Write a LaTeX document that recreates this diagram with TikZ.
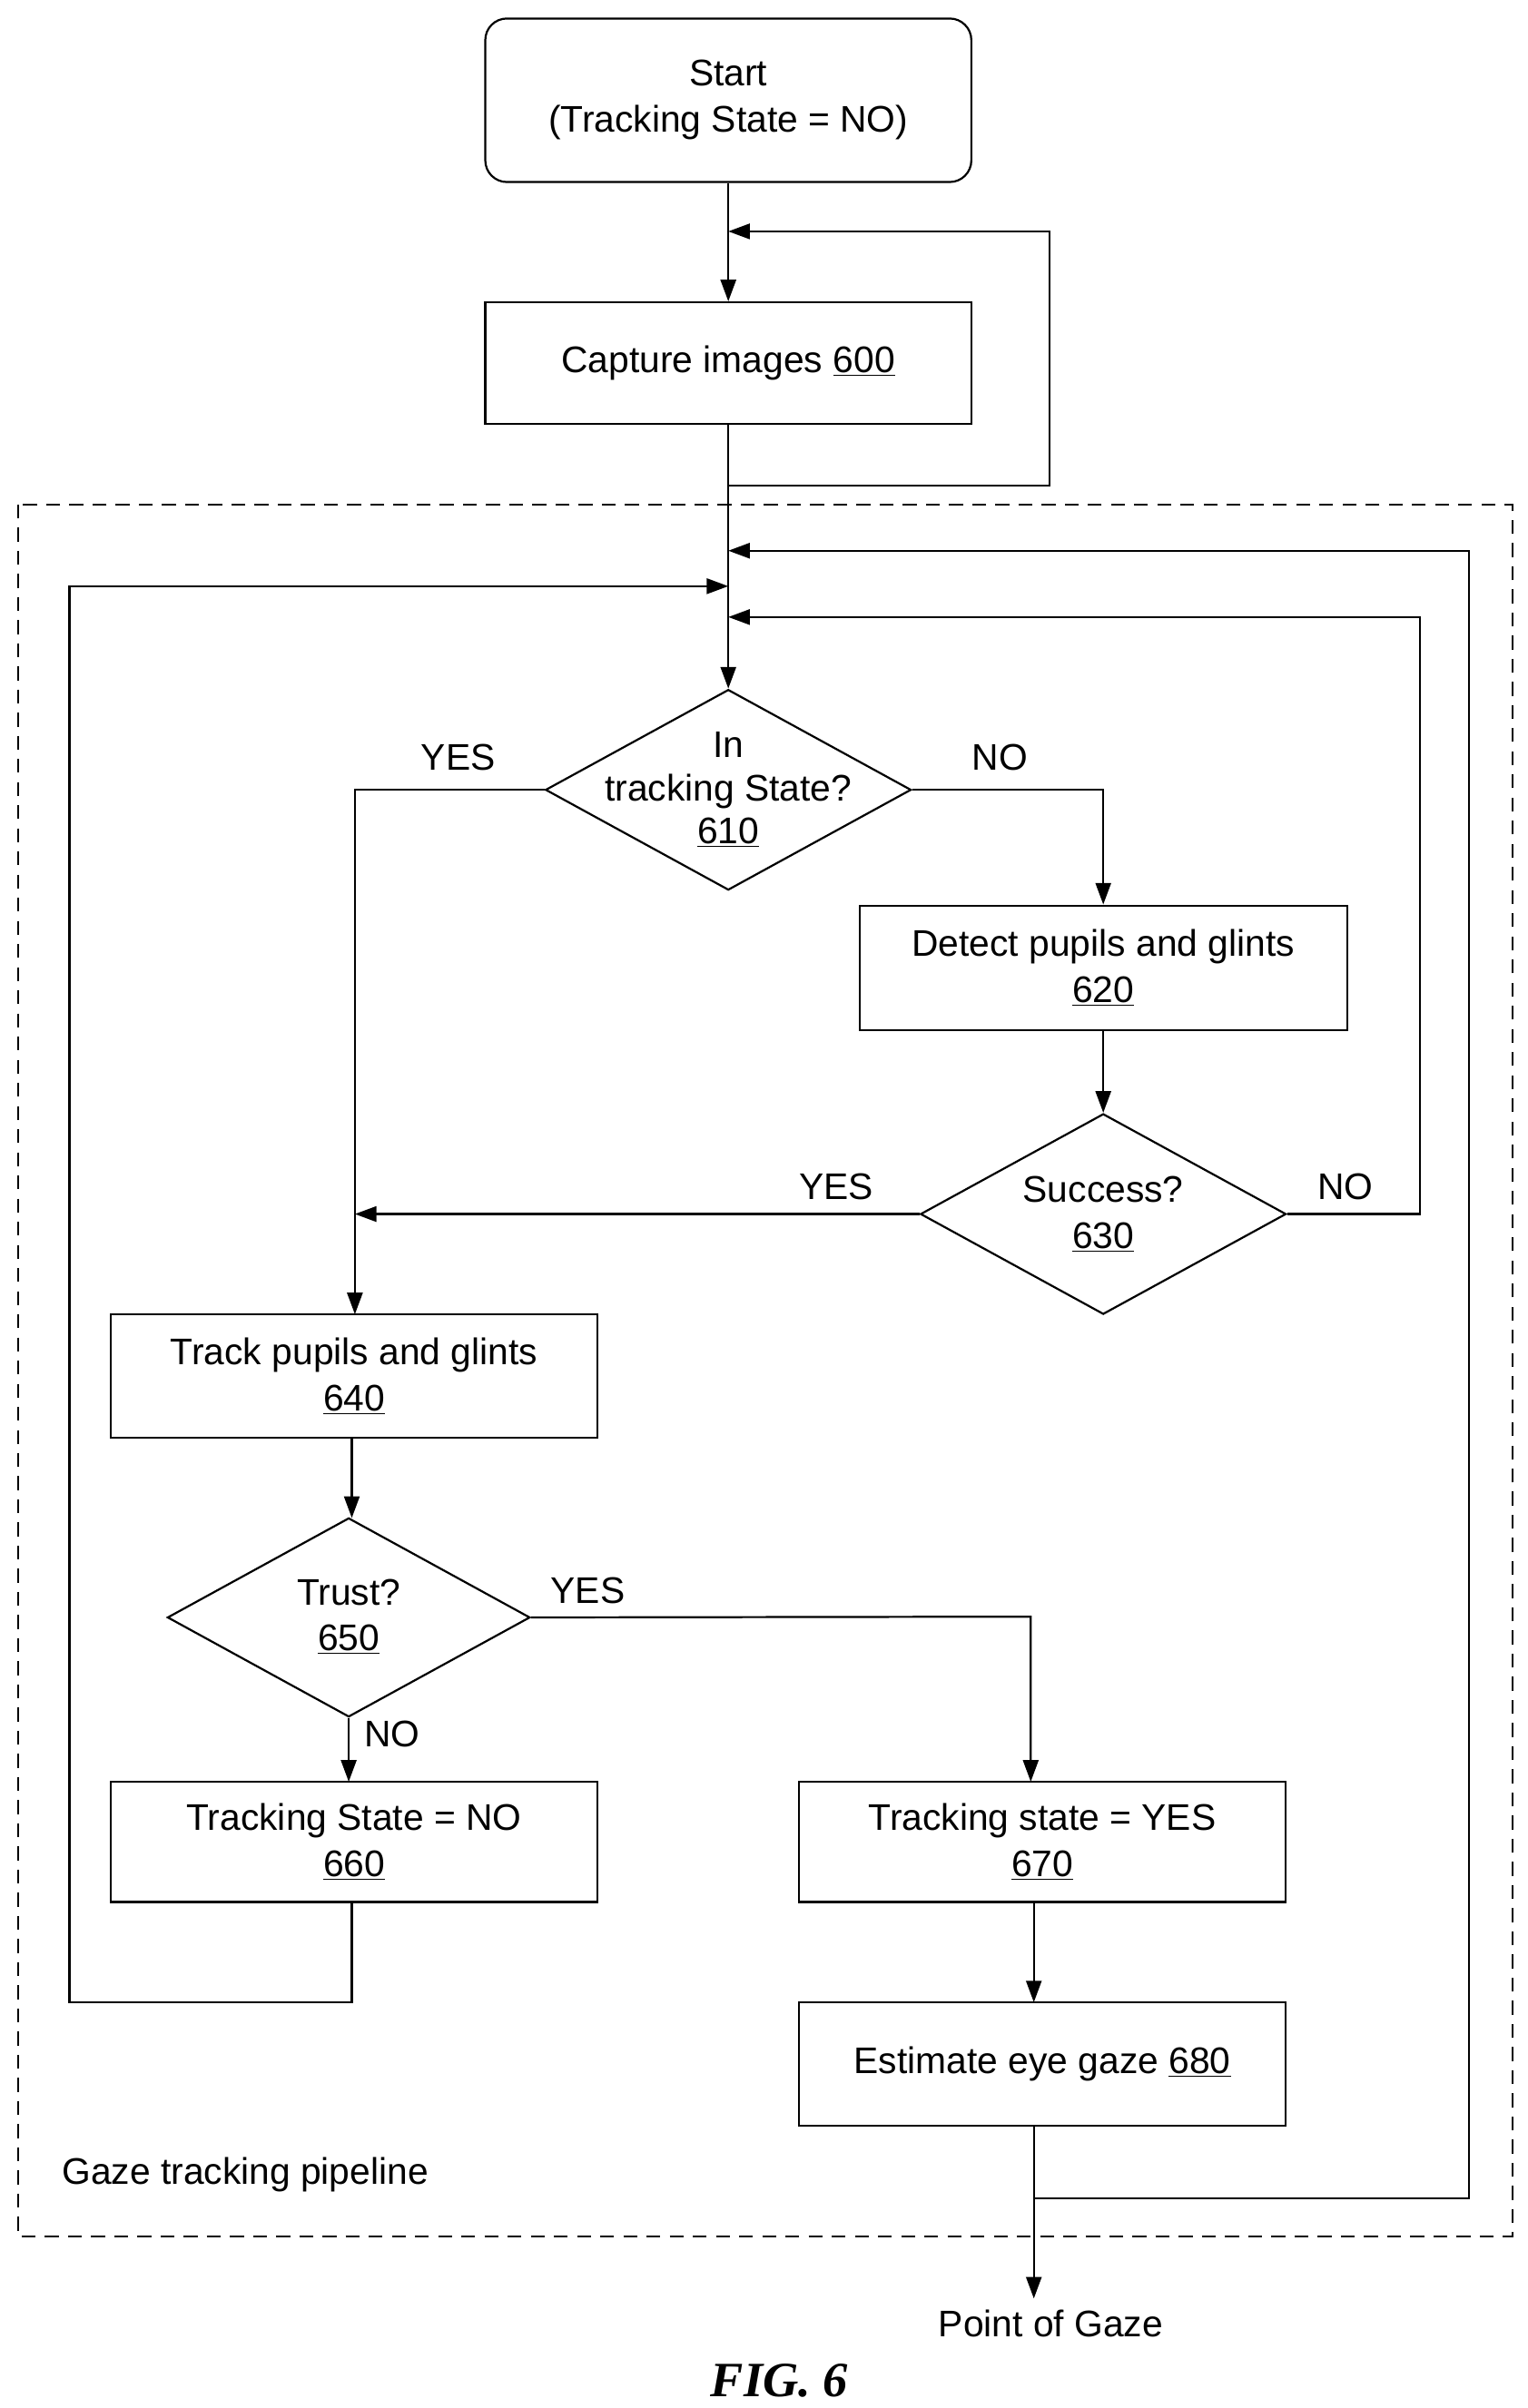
\documentclass[tikz,border=0pt]{standalone}
\usepackage{fontspec}
\setmainfont{Liberation Sans}
\newfontfamily\figfont{Liberation Serif}
\usetikzlibrary{arrows.meta,shapes.geometric}
\begin{document}
\begin{tikzpicture}[x=1pt,y=-1pt,
  every node/.style={font=\fontsize{24}{30}\selectfont, align=center},
  box/.style={draw, line width=1.3pt, minimum width=315pt, minimum height=79pt, inner sep=0pt},
  dia/.style={draw, line width=1.3pt, diamond, minimum width=237pt, minimum height=130pt, inner sep=0pt},
  lbl/.style={inner sep=0pt},
  ln/.style={line width=1.3pt},
  ar/.style={line width=1.3pt, -{Triangle[length=14pt,width=10pt]}}]
\useasboundingbox (0,0) rectangle (990,1561);
\node[box, rounded corners=14pt, minimum height=106pt] (start) at (472,65) {Start\\(Tracking State = NO)};
\node[box] (cap) at (472,235.5) {Capture images \underline{600}};
\draw[dashed, line width=1.2pt, dash pattern=on 9pt off 6pt] (12,327) rectangle (980,1450);
\node[dia] (d610) at (472,512) {\phantom{x}};
\node[lbl] at (472,512) {In\\[-2pt]tracking State?\\[-2pt]\underline{610}};
\node[box, minimum width=316pt, minimum height=81pt] (b620) at (715,627.5) {Detect pupils and glints\\\underline{620}};
\node[dia] (d630) at (715,787) {\phantom{x}};
\node[lbl] at (715,787) {Success?\\\underline{630}};
\node[box, minimum height=80pt] (b640) at (229.5,892) {Track pupils and glints\\\underline{640}};
\node[dia, minimum width=235pt, minimum height=129pt] (d650) at (226,1048.5) {\phantom{x}};
\node[lbl] at (226,1048) {Trust?\\\underline{650}};
\node[box, minimum height=78pt] (b660) at (229.5,1194) {Tracking State = NO\\\underline{660}};
\node[box, minimum height=78pt] (b670) at (675.5,1194) {Tracking state = YES\\\underline{670}};
\node[box, minimum height=80pt] (b680) at (675.5,1338) {Estimate eye gaze \underline{680}};
\coordinate (j150) at (472,150);
\coordinate (j357) at (472,357);
\coordinate (j380) at (472,380);
\coordinate (j400) at (472,400);
\coordinate (pog) at (670,1490);
% connectors
\draw[ar] (start.south) -- (cap.north);
\draw[ar] (cap.south) -- (472,315) -- (680,315) -- (680,150) -- (j150);
\draw[ar] (cap.south) -- (d610.north);
\draw[ar] (d610.west) -- (230,512) -- (230,852);
\draw[ar] (d610.east) -- (715,512) -- (b620.north);
\draw[ar] (b620.south) -- (d630.north);
\draw[ar] (d630.west) -- (230,787);
\draw[ar] (d630.east) -- (920,787) -- (920,400) -- (j400);
\draw[ar] (228,932) -- (228,984);
\draw[ar] (d650.east) -- (668,1048) -- (668,1155);
\draw[ar] (d650.south) -- (226,1155);
\draw[ar] (228,1233) -- (228,1298) -- (45,1298) -- (45,380) -- (j380);
\draw[ar] (670,1233) -- (670,1298);
\draw[ar] (670,1378) -- (pog);
\draw[ar] (670,1425) -- (952,1425) -- (952,357) -- (j357);
% labels
\node[lbl] (yes1) at (297,491) {YES};
\node[lbl] (no1) at (648,491) {NO};
\node[lbl] (yes2) at (542,769) {YES};
\node[lbl] (no2) at (872,769) {NO};
\node[lbl] (yes3) at (381,1031) {YES};
\node[lbl] (no3) at (254,1124) {NO};
\node[lbl, anchor=west] (gtp) at (40,1410) {Gaze tracking pipeline};
\node[lbl] (pogt) at (681,1506) {Point of Gaze};
\node[lbl, font=\figfont\bfseries\itshape\fontsize{32}{36}\selectfont] (fig) at (505,1543) {FIG. 6};
\end{tikzpicture}
\end{document}
